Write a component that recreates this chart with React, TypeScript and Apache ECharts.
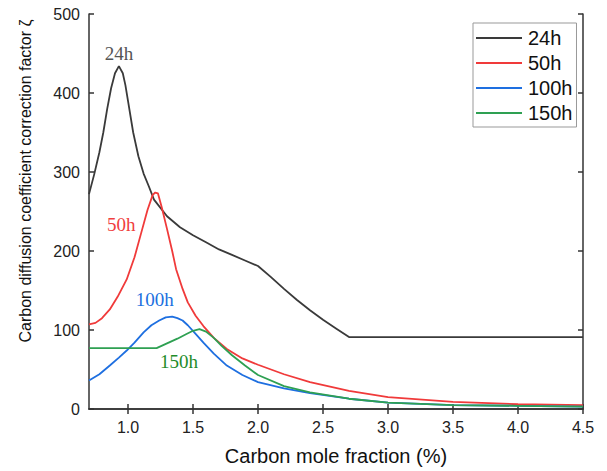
import React, { useEffect, useRef } from "react";
import * as echarts from "echarts";

const xTicks = [1.0, 1.5, 2.0, 2.5, 3.0, 3.5, 4.0, 4.5];

const x24 = [0.70, 0.74, 0.78, 0.81, 0.84, 0.87, 0.90, 0.93, 0.96, 0.98, 1.00, 1.04, 1.08, 1.12, 1.16, 1.20, 1.30, 1.40, 1.50, 1.60, 1.70, 1.80, 1.90, 2.00, 2.10, 2.20, 2.30, 2.40, 2.50, 2.60, 2.70, 3.00, 3.50, 4.00, 4.50];
const y24 = [272, 297, 325, 350, 380, 406, 425, 434, 425, 410, 390, 350, 320, 298, 282, 265, 244, 230, 220, 211, 202, 195, 188, 181, 167, 152, 138, 125, 113, 102, 91, 91, 91, 91, 91];

const x50 = [0.70, 0.75, 0.80, 0.86, 0.92, 0.99, 1.05, 1.10, 1.15, 1.19, 1.21, 1.23, 1.26, 1.30, 1.34, 1.37, 1.42, 1.46, 1.52, 1.58, 1.66, 1.76, 1.88, 2.00, 2.20, 2.40, 2.70, 3.00, 3.50, 4.00, 4.50];
const y50 = [107, 109, 115, 126, 142, 164, 192, 222, 252, 271, 274, 273, 255, 228, 200, 177, 152, 135, 118, 105, 90, 76, 64, 56, 44, 34, 23, 15, 9, 6, 5];

const x100 = [0.70, 0.78, 0.86, 0.93, 0.99, 1.05, 1.12, 1.18, 1.24, 1.29, 1.34, 1.38, 1.42, 1.46, 1.52, 1.58, 1.66, 1.76, 1.88, 2.00, 2.20, 2.40, 2.70, 3.00, 3.50, 4.00, 4.50];
const y100 = [36, 44, 55, 65, 74, 84, 97, 106, 112, 116, 117, 115, 112, 106, 95, 84, 70, 55, 43, 34, 26, 20, 13, 8, 5, 4, 3];

const x150 = [0.70, 1.00, 1.22, 1.30, 1.38, 1.45, 1.50, 1.55, 1.60, 1.66, 1.72, 1.80, 1.90, 2.00, 2.20, 2.40, 2.70, 3.00, 3.50, 4.00, 4.50];
const y150 = [77, 77, 77, 83, 89, 95, 99, 101, 98, 90, 80, 68, 55, 43, 29, 21, 13, 8, 5, 4, 3];

const seriesNames = ["24h", "50h", "100h", "150h"];
const lineColors = ["#3a3a3a", "#f03a3a", "#1e6fe0", "#2ea052"];
const labelColors = ["#555555", "#f04040", "#2070e0", "#1f8c2a"];
const labelCoords: [number, number][] = [[0.931, 450], [0.949, 234], [1.205, 138], [1.392, 60]];

const xs = [x24, x50, x100, x150];
const ys = [y24, y50, y100, y150];

export default function App() {
  const ref = useRef<HTMLDivElement>(null);
  useEffect(() => {
    if (!ref.current) return;
    const chart = echarts.init(ref.current, null, { renderer: "svg" });
    const sans = "Liberation Sans, Arial, sans-serif";
    const serif = "Liberation Serif, Times New Roman, serif";
    const axisLine = { show: true, lineStyle: { color: "#333", width: 1.5 } };
    const series = seriesNames.map((name, i) => ({
      name,
      type: "line",
      data: xs[i].map((x, j) => [x, ys[i][j]]),
      showSymbol: false,
      symbol: "none",
      lineStyle: { color: lineColors[i], width: 1.8 },
      itemStyle: { color: lineColors[i] },
      xAxisIndex: 0,
      yAxisIndex: 0,
      markPoint: {
        symbol: "circle",
        symbolSize: 0,
        silent: true,
        label: {
          show: true,
          position: "inside",
          formatter: name,
          fontFamily: serif,
          fontSize: 19,
          color: labelColors[i],
        },
        data: [{ coord: labelCoords[i], name }],
      },
    }));
    chart.setOption({
      animation: false,
      grid: { left: 89, right: 24, top: 14, bottom: 61 },
      legend: {
        orient: "vertical",
        left: 473,
        top: 23,
        padding: [5, 4, 4, 3],
        itemGap: 5,
        itemWidth: 46,
        itemHeight: 2,
        borderColor: "#999",
        borderWidth: 1,
        icon: "rect",
        data: seriesNames.map((n, i) => ({ name: n, itemStyle: { color: lineColors[i] } })),
        textStyle: { fontFamily: sans, fontSize: 20, color: "#111", lineHeight: 20, padding: [0, 0, 0, 1] },
      },
      xAxis: [
        {
          type: "value",
          min: 0.7,
          max: 4.5,
          position: "bottom",
          axisLine,
          splitLine: { show: false },
          axisTick: { show: true, inside: true, length: 5, lineStyle: { color: "#333", width: 1.5 }, customValues: xTicks },
          axisLabel: {
            show: true,
            customValues: xTicks,
            margin: 10,
            fontFamily: sans,
            fontSize: 16,
            color: "#222",
            formatter: (v: number) => v.toFixed(1),
          },
          name: "Carbon mole fraction (%)",
          nameLocation: "middle",
          nameGap: 37,
          nameTextStyle: { fontFamily: sans, fontSize: 20, color: "#111" },
        },
        {
          type: "value",
          min: 0.7,
          max: 4.5,
          position: "top",
          axisLine,
          splitLine: { show: false },
          axisTick: { show: true, inside: true, length: 5, lineStyle: { color: "#333", width: 1.5 }, customValues: xTicks },
          axisLabel: { show: false },
        },
      ],
      yAxis: [
        {
          type: "value",
          min: 0,
          max: 500,
          interval: 100,
          position: "left",
          axisLine,
          splitLine: { show: false },
          axisTick: { show: true, inside: true, length: 5, lineStyle: { color: "#333", width: 1.5 } },
          axisLabel: { margin: 9, fontFamily: sans, fontSize: 16, color: "#222" },
        },
        {
          type: "value",
          min: 0,
          max: 500,
          interval: 100,
          position: "right",
          axisLine,
          splitLine: { show: false },
          axisTick: { show: true, inside: true, length: 5, lineStyle: { color: "#333", width: 1.5 } },
          axisLabel: { show: false },
        },
      ],
      graphic: [
        {
          type: "text",
          x: 25,
          y: 181,
          rotation: Math.PI / 2,
          style: {
            text: "Carbon diffusion coefficient correction factor ζ",
            fontFamily: sans,
            fontSize: 16,
            fill: "#111",
            textAlign: "center",
            textVerticalAlign: "middle",
          },
        },
      ],
      series,
    });
    return () => chart.dispose();
  }, []);
  return <div ref={ref} style={{ width: 607, height: 471, position: "absolute", left: 0, top: 0 }} />;
}
